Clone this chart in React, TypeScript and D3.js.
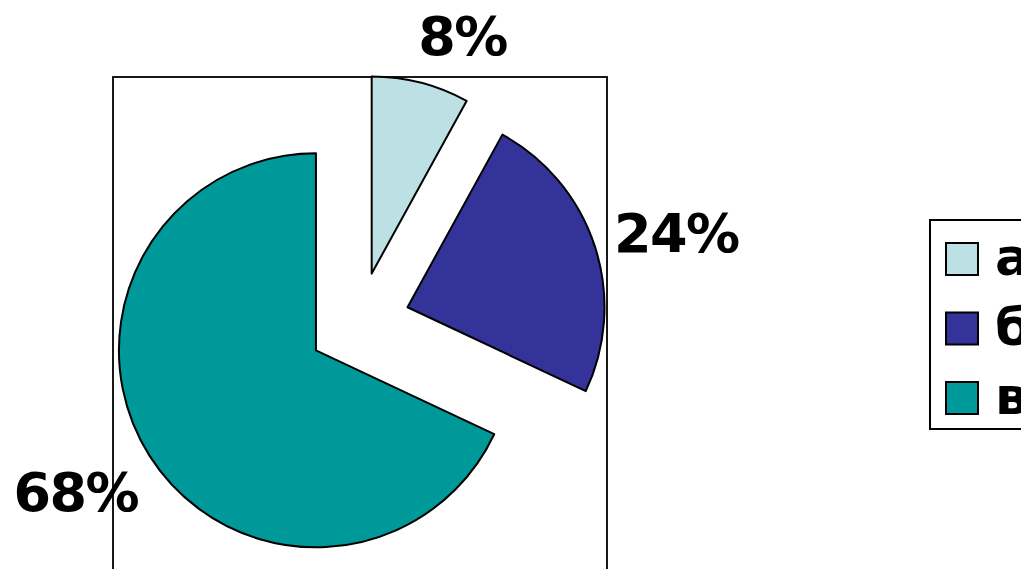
import * as d3 from 'd3';
import { useMemo } from 'react';

const categories = ['а', 'б', 'в'];
const values = [8, 24, 68];
const labels = ['8%', '24%', '68%'];
const colors = ['#BCE0E3', '#333399', '#009999'];

type Slice = d3.PieArcDatum<number>;

export default function App() {
  const width = 1021;
  const height = 569;
  const center = { x: 359, y: 323 };
  const radius = 197;
  const explode = 51;
  const labelRadius = 320;
  // small per-label nudges, Excel pushes its labels about a bit
  const labelNudge = [
    [24, 22],
    [13, 8],
    [-13, -3],
  ];
  const fontSize = 54;
  const capHalf = 20;

  const pieData = useMemo(
    () =>
      d3
        .pie<number>()
        .sort(null)
        .startAngle(0)
        .endAngle(2 * Math.PI)(values),
    [],
  );
  const arc = d3.arc<Slice>().innerRadius(0).outerRadius(radius);

  const midAngle = (d: Slice) => (d.startAngle + d.endAngle) / 2;

  const slices = pieData.map((d, i) => {
    const a = midAngle(d);
    const dx = Math.sin(a) * explode;
    const dy = -Math.cos(a) * explode;
    return (
      <path
        key={i}
        d={arc(d) ?? ''}
        transform={`translate(${center.x + dx},${center.y + dy})`}
        fill={colors[i]}
        stroke="black"
        strokeWidth={2}
        strokeLinejoin="round"
      />
    );
  });

  const sliceLabels = pieData.map((d, i) => {
    const a = midAngle(d);
    const x = center.x + Math.sin(a) * labelRadius + labelNudge[i][0];
    const y = center.y - Math.cos(a) * labelRadius + labelNudge[i][1];
    return (
      <text
        key={i}
        x={x}
        y={y + capHalf}
        textAnchor="middle"
        fontSize={fontSize}
        fontWeight="bold"
        letterSpacing={-1.5}
        fill="black"
      >
        {labels[i]}
      </text>
    );
  });

  // legend
  const legend = { x: 930, y: 220, h: 209 };
  const legendY = d3
    .scalePoint<string>()
    .domain(categories)
    .range([legend.y + 39, legend.y + 178]);
  const sw = 32;

  return (
    <svg
      width={width}
      height={height}
      style={{ position: 'absolute', left: 0, top: 0, background: 'white' }}
      fontFamily="'DejaVu Sans', Verdana, sans-serif"
    >
      <rect x={113} y={77} width={494} height={540} fill="white" stroke="black" strokeWidth={1.8} />
      {slices}
      {sliceLabels}
      <rect x={legend.x} y={legend.y} width={200} height={legend.h} fill="white" stroke="black" strokeWidth={2} />
      {categories.map((c, i) => {
        const cy = legendY(c)!;
        return (
          <g key={c}>
            <rect x={946} y={cy - sw / 2} width={sw} height={sw} fill={colors[i]} stroke="black" strokeWidth={2} />
            <text x={995} y={cy + sw / 2} fontSize={52} fontWeight="bold" fill="black">
              {c}
            </text>
          </g>
        );
      })}
    </svg>
  );
}
